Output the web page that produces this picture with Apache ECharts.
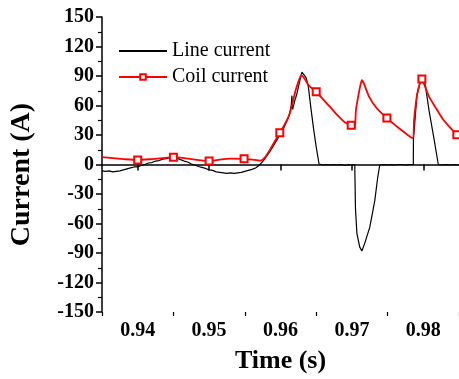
<!DOCTYPE html>
<html>
<head>
<meta charset="utf-8">
<script src="https://cdn.jsdelivr.net/npm/echarts@6/dist/echarts.min.js"></script>
<style>
  html, body { margin: 0; padding: 0; background: #fff; }
  #chart { width: 459px; height: 379px; }
</style>
</head>
<body>
<div id="chart"></div>
<script>
// measured line current (A) vs time (s)
const lineTime = [
  0.9350, 0.9355, 0.9360, 0.9365, 0.9370, 0.9375, 0.9380, 0.9385, 0.9390, 0.9395,
  0.9400, 0.9405, 0.9410, 0.9415, 0.9420, 0.9425, 0.9430, 0.9435, 0.9440, 0.9445,
  0.9450, 0.9455, 0.9460, 0.9465, 0.9470, 0.9475, 0.9480, 0.9485, 0.9490, 0.9495,
  0.9500, 0.9505, 0.9510, 0.9515, 0.9520, 0.9525, 0.9530, 0.9535, 0.9540, 0.9545,
  0.9550, 0.9555, 0.9560, 0.9565, 0.9570, 0.9575, 0.9580, 0.9585, 0.9590, 0.9595,
  0.9600, 0.9605, 0.9610, 0.9613, 0.9615, 0.9616, 0.9617, 0.9620, 0.9623, 0.9626,
  0.9630, 0.9632, 0.9636, 0.9639, 0.9643, 0.9646, 0.9650, 0.9654, 0.9660, 0.9665,
  0.9670, 0.9675, 0.9680, 0.9685, 0.9690, 0.9695, 0.9700, 0.9704, 0.9705, 0.9707,
  0.9711, 0.9714, 0.9718, 0.9725, 0.9732, 0.9736, 0.9739, 0.9745, 0.9750, 0.9755,
  0.9760, 0.9765, 0.9770, 0.9775, 0.9780, 0.9786, 0.97862, 0.9788, 0.9791, 0.9795,
  0.9798, 0.9801, 0.9803, 0.9808, 0.9815, 0.9821, 0.9826, 0.9832, 0.9838, 0.9844,
  0.9850
];
const lineCurrent = [
  -6.5, -7, -6.5, -7.5, -7, -6.5, -5.5, -4.5, -3.5, -2.5,
  -2.5, -1, 0, 1.5, 2, 3.5, 4, 5.5, 6, 7,
  7.5, 6.5, 5, 3.5, 2.5, 0.5, -0.5, -2, -3, -4,
  -5.5, -6, -7.5, -8, -8.5, -9, -8.5, -9, -8.5, -8,
  -7, -6, -5, -3.5, -1, 3, 8, 13, 19, 25,
  31, 38, 46, 52, 60, 70, 56, 65, 72, 82,
  94, 93, 88, 79, 55, 38, 18, 0.5, -0.5, 0,
  -0.5, 0, -0.5, 0, -1, 0, -0.5, 0, -45, -70,
  -84, -88, -80, -64, -37, -14, -0.5, 0, -0.5, 0,
  -0.5, 0, 0, -0.5, 0, 0, 26, 42, 70, 82,
  88, 86, 80, 55, 26, 0, -0.5, 0, -0.5, 0,
  -0.5
];

// coil current (A) vs time (s)
const coilTime = [
  0.9350, 0.9365, 0.9380, 0.9400, 0.9420, 0.9435, 0.9450, 0.9465, 0.9480, 0.9500,
  0.9515, 0.9530, 0.9549, 0.9560, 0.9572, 0.9578, 0.9586, 0.9599, 0.9606, 0.9612,
  0.9617, 0.9621, 0.9626, 0.9629, 0.9633, 0.9640, 0.9650, 0.9660, 0.9670, 0.9680,
  0.9690, 0.9699, 0.9704, 0.97056, 0.9709, 0.9712, 0.9714, 0.9717, 0.9724, 0.9734,
  0.9749, 0.9767, 0.9785, 0.9787, 0.9791, 0.9795, 0.9798, 0.9802, 0.9808, 0.9818,
  0.9827, 0.9837, 0.9847, 0.9850
];
const coilCurrent = [
  7.5, 6.5, 5.5, 4.5, 5.5, 6.5, 7.4, 6.5, 5, 3.5,
  5, 6, 5.8, 5, 4, 7, 16, 32.3, 41, 50,
  63, 75, 86, 90.8, 88, 80, 74, 66, 58, 50,
  43, 39.8, 37, 55, 70, 81, 85.7, 82, 69, 58,
  47.2, 36.4, 26.8, 45, 70, 82, 87, 80, 69, 57,
  46.6, 38, 30.3, 29
];
// indices of coilTime that carry a square marker
const coilMarkers = [3, 6, 9, 12, 17, 26, 31, 40, 46, 52];

const xTickValues = [0.94, 0.95, 0.96, 0.97, 0.98];
const xMinorTickValues = [0.935, 0.945, 0.955, 0.965, 0.975, 0.985];

const serif = "'Liberation Serif', 'Times New Roman', serif";

const lineData = lineTime.map((t, i) => [t, lineCurrent[i]]);
const coilData = coilTime.map((t, i) =>
  coilMarkers.includes(i) ? [t, coilCurrent[i]] : { value: [t, coilCurrent[i]], symbol: "none" }
);

const chart = echarts.init(document.getElementById("chart"), null, { renderer: "canvas" });
chart.setOption({
  animation: false,
  grid: { left: 100, top: 17, width: 360, bottom: 67 },
  legend: {
    orient: "vertical",
    left: 118,
    top: 41,
    padding: 0,
    itemWidth: 48,
    itemHeight: 7,
    itemGap: 6,
    textStyle: { fontFamily: serif, fontSize: 20, color: "#000" },
    data: [
      { name: "Line current", itemStyle: { opacity: 0 } },
      { name: "Coil current" },
    ],
  },
  xAxis: [
    {
      type: "value",
      min: 0.935,
      max: 0.985,
      interval: 0.005,
      name: "Time (s)",
      nameLocation: "middle",
      nameGap: 36,
      nameTextStyle: { fontFamily: serif, fontSize: 26, fontWeight: "bold", color: "#000" },
      axisLine: { lineStyle: { color: "#000", width: 1.5 } },
      axisTick: { inside: false, customValues: xTickValues, length: 6, lineStyle: { color: "#000", width: 1.5 } },
      axisLabel: {
        customValues: xTickValues,
        margin: 9,
        fontFamily: serif,
        fontSize: 20,
        fontWeight: "bold",
        color: "#000",
        formatter: (v) => v.toFixed(2),
      },
      splitLine: { show: false },
    },
    {
      type: "value",
      min: 0.935,
      max: 0.985,
      interval: 0.005,
      position: "bottom",
      axisLine: { show: false },
      axisTick: { inside: false, customValues: xMinorTickValues, length: 4, lineStyle: { color: "#000", width: 1.2 } },
      axisLabel: { show: false },
      splitLine: { show: false },
    },
  ],
  yAxis: {
    type: "value",
    min: -150,
    max: 150,
    interval: 30,
    name: "Current (A)",
    nameLocation: "middle",
    nameGap: 66,
    nameTextStyle: {
      fontFamily: serif,
      fontSize: 28,
      fontWeight: "bold",
      color: "#000",
      padding: [0, 20, 0, 0],
    },
    axisLine: { show: true, lineStyle: { color: "#000", width: 1.5 } },
    axisTick: { show: true, inside: false, length: 6, lineStyle: { color: "#000", width: 1.5 } },
    minorTick: { show: true, splitNumber: 2, length: 4, lineStyle: { color: "#000", width: 1.2 } },
    axisLabel: { margin: 8, fontFamily: serif, fontSize: 20, fontWeight: "bold", color: "#000" },
    splitLine: { show: false },
  },
  series: [
    {
      name: "Line current",
      type: "line",
      data: lineData,
      showSymbol: false,
      symbol: "none",
      lineStyle: { color: "#000", width: 1.2 },
      itemStyle: { color: "#000" },
    },
    {
      name: "Coil current",
      type: "line",
      data: coilData,
      symbol: "emptyRect",
      symbolSize: 7,
      smooth: 0.2,
      lineStyle: { color: "#ff0000", width: 1.8 },
      itemStyle: { color: "#ff0000", borderWidth: 1.5 },
    },
  ],
});
</script>
</body>
</html>
